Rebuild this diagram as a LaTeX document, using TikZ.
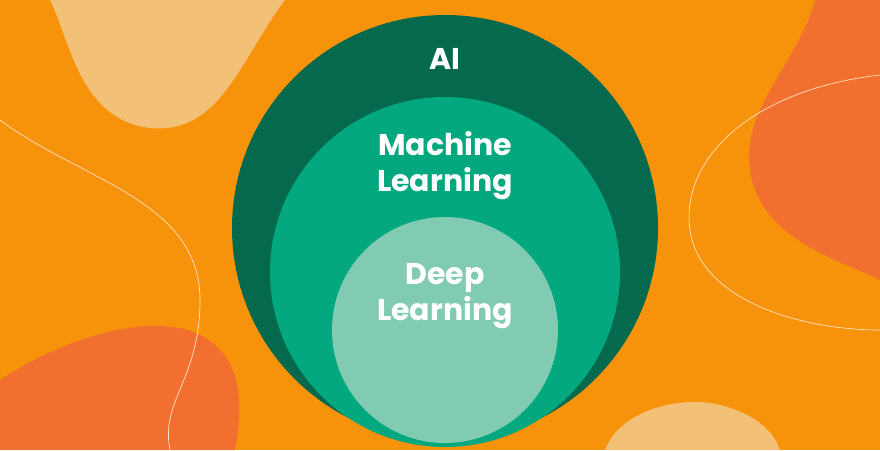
\documentclass[tikz,border=0pt]{standalone}
\usepackage{fontspec}
\setmainfont{Poppins}
\definecolor{bgorange}{HTML}{F7920B}
\definecolor{peach}{HTML}{F3C077}
\definecolor{redorange}{HTML}{F2702F}
\definecolor{aigreen}{HTML}{04694D}
\definecolor{mlgreen}{HTML}{03A87F}
\definecolor{dlgreen}{HTML}{82CBB3}
\tikzset{
  ring/.style={circle, draw=none, inner sep=0pt},
  label/.style={text=white, font=\bfseries\fontsize{30}{36}\selectfont, align=center},
  swirl/.style={draw=white!75!bgorange, line width=0.7pt}
}
\begin{document}
\begin{tikzpicture}[x=1pt, y=-1pt]
  % Background
  \fill[bgorange] (0,0) rectangle (880,450);
  \useasboundingbox (0,0) rectangle (880,450);
  % Blobs
  \fill[peach] (50,0) .. controls (70,40) and (80,120) .. (150,128)
    .. controls (220,135) and (240,60) .. (285,0) -- cycle;
  \fill[redorange] (880,0) -- (815,0) .. controls (800,60) and (740,110) .. (750,170)
    .. controls (760,240) and (840,260) .. (880,280) -- cycle;
  \fill[redorange] (0,450) -- (0,380) .. controls (60,340) and (150,310) .. (200,335)
    .. controls (250,360) and (240,420) .. (235,450) -- cycle;
  \fill[peach] (605,450) .. controls (620,410) and (680,395) .. (720,405)
    .. controls (760,415) and (775,435) .. (780,450) -- cycle;
  % Swirls
  \draw[swirl] (0,120) .. controls (80,180) and (200,200) .. (200,300)
    .. controls (200,380) and (160,400) .. (170,450);
  \draw[swirl] (880,75) .. controls (750,90) and (680,160) .. (690,230)
    .. controls (700,300) and (800,330) .. (880,330);
  % Circles
  \node[ring, fill=aigreen, minimum size=426pt] (ai) at (445,228) {};
  \node[ring, fill=mlgreen, minimum size=350pt] (ml) at (445,272) {};
  \node[ring, fill=dlgreen, minimum size=226pt] (dl) at (445,330) {};
  % Labels
  \node[label] (ailabel) at (445,59) {AI};
  \node[label] (mllabel) at (445,166) {Machine\\Learning};
  \node[label] (dllabel) at (445,296) {Deep\\Learning};
\end{tikzpicture}
\end{document}
